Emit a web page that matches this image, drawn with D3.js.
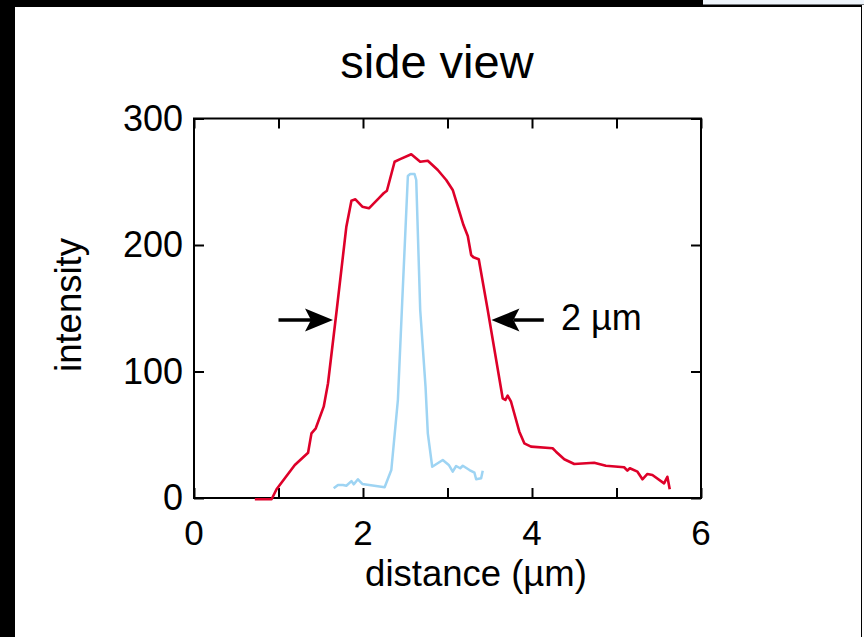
<!DOCTYPE html>
<html>
<head>
<meta charset="utf-8">
<script src="https://cdn.jsdelivr.net/npm/d3@7"></script>
<style>
  html, body { margin: 0; padding: 0; background: #000; }
  svg { display: block; font-family: "Liberation Sans", Arial, sans-serif; }
</style>
</head>
<body>
<svg id="chart" width="864" height="637"></svg>
<script>
// side view line profiles (distance in µm, intensity)
const redX = [0.72, 0.918, 0.977, 1.193, 1.35, 1.39, 1.441, 1.535, 1.586, 1.689, 1.803, 1.863, 1.91, 1.992, 2.07, 2.197, 2.244, 2.283, 2.374, 2.433, 2.571, 2.677, 2.767, 2.885, 2.985, 3.062, 3.189, 3.24, 3.28, 3.307, 3.37, 3.476, 3.653, 3.685, 3.712, 3.752, 3.85, 3.909, 3.988, 4.244, 4.284, 4.382, 4.5, 4.736, 4.874, 5.09, 5.129, 5.158, 5.248, 5.307, 5.366, 5.425, 5.563, 5.602, 5.63];
const redY = [-1, -1, 6.9, 26.1, 35.8, 51.1, 55.1, 72.2, 90.7, 148.6, 214.5, 235.0, 236.1, 230.3, 229.0, 237.7, 240.9, 242.9, 265.8, 267.7, 271.7, 265.8, 266.6, 259.3, 251.4, 243.5, 215.8, 207.1, 192.1, 190.3, 188.7, 148.6, 78.8, 77.5, 80.9, 76.1, 52.4, 43.2, 40.6, 39.3, 36.6, 30.6, 26.9, 27.9, 25.5, 24.3, 21.6, 23.5, 20.8, 14.8, 19.0, 18.2, 11.6, 16.8, 6.9];

const blueX = [1.653, 1.704, 1.763, 1.803, 1.863, 1.89, 1.94, 1.992, 2.256, 2.335, 2.413, 2.465, 2.531, 2.559, 2.61, 2.63, 2.677, 2.74, 2.767, 2.819, 2.944, 3.015, 3.062, 3.102, 3.15, 3.181, 3.26, 3.319, 3.339, 3.398, 3.417];
const blueY = [7.7, 10.3, 10.3, 9.7, 13.4, 10.8, 14.8, 11.1, 8.5, 22.1, 77.5, 156.5, 254.5, 256.1, 256.1, 251.4, 148.6, 88.0, 51.1, 24.7, 30.0, 26.1, 20.8, 25.3, 23.5, 25.5, 22.1, 20.0, 14.8, 15.6, 21.6];

const xTicks = [0, 1, 2, 3, 4, 5, 6];
const xLabels = [0, 2, 4, 6];
const yTicks = [0, 100, 200, 300];

// FWHM arrows: tail x, tip x, intensity
const arrowTail = [1.0, 4.14];
const arrowTip = [1.645, 3.52];
const arrowLevel = 140.7;
const arrowText = "2 µm";

const svg = d3.select("#chart");

// frame of the screenshot
svg.append("rect").attr("x", 15).attr("y", 7).attr("width", 846).attr("height", 630).attr("fill", "#fff");
svg.append("rect").attr("x", 862).attr("y", 5).attr("width", 2).attr("height", 632).attr("fill", "#fdfdfd");
svg.append("rect").attr("x", 703).attr("y", 0).attr("width", 161).attr("height", 4.5).attr("fill", "#eef4fb");

const plotL = 194, plotR = 701, plotT = 118.5, plotB = 498;

const x = d3.scaleLinear().domain([0, 6]).range([plotL, plotR]);
const y = d3.scaleLinear().domain([0, 300]).range([plotB, plotT]);

// axes, ticks pointing inward on all four sides
const fmt = d => "";
svg.append("g").attr("transform", `translate(0,${plotB})`)
  .call(d3.axisBottom(x).tickValues(xTicks).tickSize(-10).tickSizeOuter(0).tickFormat(fmt));
svg.append("g").attr("transform", `translate(0,${plotT})`)
  .call(d3.axisTop(x).tickValues(xTicks).tickSize(-10).tickSizeOuter(0).tickFormat(fmt));
svg.append("g").attr("transform", `translate(${plotL},0)`)
  .call(d3.axisLeft(y).tickValues(yTicks).tickSize(-10).tickSizeOuter(0).tickFormat(fmt));
svg.append("g").attr("transform", `translate(${plotR},0)`)
  .call(d3.axisRight(y).tickValues(yTicks).tickSize(-10).tickSizeOuter(0).tickFormat(fmt));

svg.selectAll(".tick line").attr("stroke", "#000").attr("stroke-width", 2);
svg.selectAll(".domain").remove();

svg.append("rect")
  .attr("x", plotL).attr("y", plotT)
  .attr("width", plotR - plotL).attr("height", plotB - plotT)
  .attr("fill", "none").attr("stroke", "#000").attr("stroke-width", 2);

// lines, drawn over the frame
const red = redX.map((d, i) => [d, redY[i]]);
const blue = blueX.map((d, i) => [d, blueY[i]]);
const line = d3.line().x(d => x(d[0])).y(d => y(d[1]));

svg.append("path").datum(blue)
  .attr("d", line).attr("fill", "none")
  .attr("stroke", "#9ed4f3").attr("stroke-width", 2.5).attr("stroke-linejoin", "round");

svg.append("path").datum(red)
  .attr("d", line).attr("fill", "none")
  .attr("stroke", "#de0029").attr("stroke-width", 2.6).attr("stroke-linejoin", "round");

// tick labels
svg.append("g").selectAll("text").data(xLabels).join("text")
  .attr("x", d => x(d)).attr("y", 545)
  .attr("text-anchor", "middle").attr("font-size", 35)
  .text(d => d);

svg.append("g").selectAll("text").data(yTicks).join("text")
  .attr("x", 183).attr("y", d => y(d) + 12)
  .attr("text-anchor", "end").attr("font-size", 36)
  .text(d => d);

// titles
svg.append("text").attr("x", 437).attr("y", 78)
  .attr("text-anchor", "middle").attr("font-size", 47)
  .text("side view");

svg.append("text").attr("x", 476).attr("y", 586)
  .attr("text-anchor", "middle").attr("font-size", 36.5)
  .text("distance (µm)");

svg.append("text")
  .attr("transform", "translate(81,305) rotate(-90)")
  .attr("text-anchor", "middle").attr("font-size", 36.5)
  .text("intensity");

// arrows
const ay = y(arrowLevel);
arrowTail.forEach((t, i) => {
  const x0 = x(t), x1 = x(arrowTip[i]);
  const dir = x1 > x0 ? 1 : -1;
  const L = 28, W = 11.5, notch = 6;
  svg.append("line")
    .attr("x1", x0).attr("y1", ay).attr("x2", x1 - dir * L + dir * notch).attr("y2", ay)
    .attr("stroke", "#000").attr("stroke-width", 3.5);
  svg.append("path")
    .attr("d", `M${x1},${ay} L${x1 - dir * L},${ay - W} L${x1 - dir * (L - notch)},${ay} L${x1 - dir * L},${ay + W} Z`)
    .attr("fill", "#000");
});

svg.append("text").attr("x", 561).attr("y", 330)
  .attr("font-size", 36)
  .text(arrowText);
</script>
</body>
</html>
